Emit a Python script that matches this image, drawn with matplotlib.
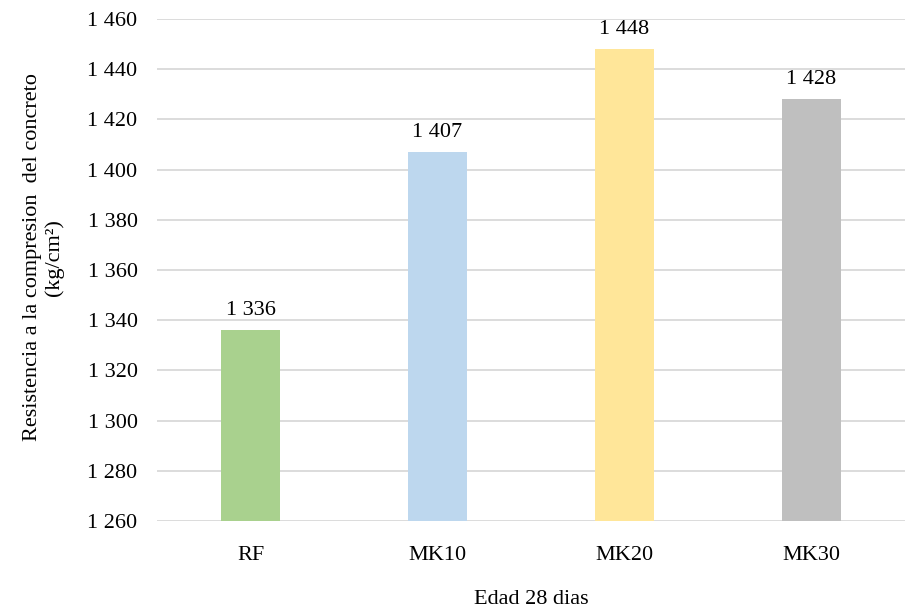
import matplotlib.pyplot as plt
from matplotlib.ticker import FuncFormatter

categories = ['RF', 'MK10', 'MK20', 'MK30']
values = [1336, 1407, 1448, 1428]
colors = ['#A9D18E', '#BDD7EE', '#FFE699', '#BFBFBF']

plt.rcParams['font.family'] = ['Liberation Serif', 'DejaVu Serif']

def fmt(v, pos=None):
    return '{:,}'.format(int(round(v))).replace(',', ' ')

fig = plt.figure(figsize=(9.05, 6.14), dpi=100)
ax = fig.add_axes([0.1735, 0.1515, 0.8265, 0.8175])

x = range(len(categories))
bars = ax.bar(x, values, width=0.32, color=colors, zorder=2)
for b, v in zip(bars, values):
    ax.text(b.get_x() + b.get_width() / 2, v + 4, fmt(v), ha='center', va='bottom', fontsize=16)

ax.set_ylim(1260, 1460)
ax.set_xlim(-0.5, 3.5)
ax.set_yticks(range(1260, 1461, 20))
ax.yaxis.set_major_formatter(FuncFormatter(fmt))
ax.set_xticks(list(x))
ax.set_xticklabels(categories)
ax.grid(axis='y', color='#d9d9d9', linewidth=1.3, zorder=0)
for s in ax.spines.values():
    s.set_visible(False)
ax.tick_params(axis='both', length=0, labelsize=16)
ax.tick_params(axis='x', pad=18)
ax.tick_params(axis='y', pad=14)

ax.set_xlabel('Edad 28 dias', fontsize=16, labelpad=18)
ax.set_ylabel('Resistencia a la compresion  del concreto\n(kg/cm²)', fontsize=16)
ax.yaxis.set_label_coords(-0.124, 0.525)

plt.savefig('out.png', dpi=100)
plt.close()
